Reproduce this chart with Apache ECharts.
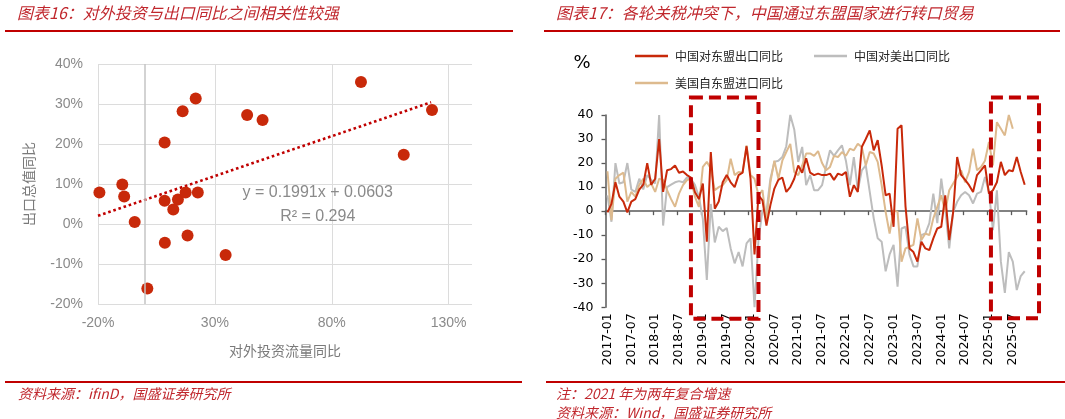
<!DOCTYPE html>
<html><head><meta charset="utf-8">
<script src="https://cdn.jsdelivr.net/npm/echarts@6/dist/echarts.min.js"></script>
<style>html,body{margin:0;padding:0;background:#fff;}#c{width:1065px;height:419px;}</style>
</head><body><div id="c"></div>
<script>
// ---------- Left chart: scatter (对外投资流量同比 vs 出口总值同比), % ----------
const investX = [-19.4, -9.6, -8.8, -4.3, 1.1, 8.5, 8.5, 8.6, 12.2, 14.2, 16.2, 17.5, 18.3, 21.8, 22.7, 34.6, 43.8, 50.4, 92.5, 110.8, 122.9];
const exportY = [7.9, 9.9, 6.9, 0.5, -16.1, 20.4, 5.8, -4.7, 3.6, 6.1, 28.2, 7.9, -2.9, 31.4, 7.9, -7.75, 27.25, 26, 35.5, 17.3, 28.5];
const trendSlope = 0.1991, trendIntercept = 0.0603, trendR2 = 0.294;
const trendXRange = [-20, 122.5];
const leftXTicks = [-20, 30, 80, 130];

// ---------- Right chart: monthly YoY (%) ----------
const startYear = 2017, monthCount = 106;
const months = [];
for (let i = 0; i < monthCount; i++) {
  const y = startYear + Math.floor(i / 12), m = i % 12 + 1;
  months.push(y + '-' + (m < 10 ? '0' + m : m));
}
const chinaToAsean = [-0.5,3,12,6,4,-0.5,4,5,9,11,20,11,13.5,30,8,17,17.5,19,16,16.5,15,14,8,5,11.5,-12.7,24.6,1,4,12,15,12,10,15,16,27,13.5,-18,6.6,4.5,-6,2.5,9.4,13,14,8,10,13.5,19,16,22,16,15,15.6,15,15,15.6,13,15.6,15,16.3,6,10.8,8,26.7,30,33.6,25.3,29.5,19,6.6,7.3,-6.5,34.3,35.7,2,-15.5,-17,-21,-12.7,-15.5,-16.2,-11.3,-7.2,-6.5,6.6,-12,-0.3,22.5,15,13,10.8,8,15,17,19,7.3,8.7,12,20.5,15,17,16.6,22.5,16.3,11];
const chinaToUS = [6.6,-4.4,20,11.5,12,20,9,8,13.5,9,15,13,11.5,40,-6,10,11,12,12.5,12,14,13.5,11,6,-3.3,-28.6,3,-13,-6.5,-8.3,-7,-15.5,-21.7,-17,-23,-13.4,-11.3,-40,-12,0.4,-0.3,13.5,20.5,21,22.5,27,40,34,20.5,26.7,10.8,15,8.7,8.7,10.8,18.4,25.3,23,25.3,27.4,21,10.8,22.5,8.7,17,19,8,-3,-11.3,-12.7,-25,-18,-14,-31.4,-7.2,-6.5,-18,-23,-23,-10,-9.3,-5,7.3,-5,13.5,1,-15.5,-0.3,3.9,6.6,8,6.6,3.2,7.3,8,14.2,8,-7.9,8.7,-21,-34,-17,-21,-32.8,-27,-25];
const usFromAsean = [16.6,-3.7,13.5,15,16,4,8,6,11,13.5,10,11.5,8,13.5,13,8.7,5,1.8,7.3,10.8,12.9,13.5,6,1.8,18.4,20.5,17.7,8.7,10,10.8,12.9,21.8,15,16.3,16,27.4,15,13.5,6.6,8.7,-4.4,12,21,13.5,21,24.6,28,16.3,15,19,24,24,23,25,20,17,18.4,23,22.5,24.6,23,26,25.3,28,26.7,19,24.6,24,20.5,10.8,-0.3,-9.3,0.4,-0.3,-21,-15.5,-14.8,-14,-3,-12,-9.3,-10,-3,1.8,6.6,-0.3,8.7,11.5,14.2,17,12,16.3,26,17,18.4,21,28.8,19,37,34.3,31.5,40,34.3];
const seriesNames = ['中国对东盟出口同比', '中国对美出口同比', '美国自东盟进口同比'];
// highlighted periods, in month-index units and y-values
const boxes = [{from: 21, to: 38, top: 47.3, bottom: -44.8}, {from: 96.5, to: 108.6, top: 47.3, bottom: -44.6}];

const RED = '#C8290A', GRAY = '#BDBDBD', TAN = '#DDBA8E', TITLE = '#C0272D';
const chart = echarts.init(document.getElementById('c'), null, {renderer: 'canvas'});
const scatterData = investX.map((x, i) => [x, exportY[i]]);
const trendData = trendXRange.map(x => [x, (trendSlope * x / 100 + trendIntercept) * 100]);
const leftLabel = {color: '#8a8a8a', fontFamily: 'Liberation Sans', fontSize: 14};

chart.setOption({
  animation: false,
  grid: [
    {left: 98, right: 593, top: 64, bottom: 115},
    {left: 605.5, right: 38.3, top: 115, bottom: 111.7}
  ],
  legend: [
    {data: [seriesNames[0], seriesNames[1]], left: 630, top: 45, itemWidth: 33, itemHeight: 2.5, itemGap: 31, icon: 'rect',
     textStyle: {fontFamily: 'Noto Sans CJK SC', fontSize: 12, color: '#262626', padding: [0, 0, 0, 2]}},
    {data: [seriesNames[2]], left: 630, top: 72, itemWidth: 33, itemHeight: 2.5, icon: 'rect',
     textStyle: {fontFamily: 'Noto Sans CJK SC', fontSize: 12, color: '#262626', padding: [0, 0, 0, 2]}}
  ],
  xAxis: [
    {gridIndex: 0, type: 'value', min: -20, max: 140, interval: 50,
     name: '对外投资流量同比', nameLocation: 'middle', nameGap: 40,
     nameTextStyle: {color: '#7a7a7a', fontFamily: 'Noto Sans CJK SC', fontSize: 14},
     axisLine: {show: false, onZero: false}, axisTick: {show: false},
     axisLabel: Object.assign({margin: 12, showMaxLabel: false, formatter: v => leftXTicks.indexOf(v) >= 0 ? v + '%' : ''}, leftLabel),
     splitLine: {show: true, showMaxLine: false, lineStyle: {color: '#dcdcdc', width: 1}}},
    {gridIndex: 1, type: 'category', data: months, boundaryGap: true, position: 'bottom',
     axisLine: {show: false, onZero: false}, axisTick: {show: false},
     axisLabel: {interval: 5, rotate: 90, margin: 6, color: '#000', fontFamily: 'DejaVu Sans', fontSize: 12.5}},
    {gridIndex: 1, type: 'category', data: months, boundaryGap: true, position: 'top',
     axisLine: {show: true, onZero: true, lineStyle: {color: '#595959', width: 1.5}},
     axisTick: {show: true, inside: true, interval: 5, length: 4, lineStyle: {color: '#595959', width: 1.3}},
     axisLabel: {show: false}}
  ],
  yAxis: [
    {gridIndex: 0, type: 'value', min: -20, max: 40, interval: 10,
     name: '出口总值同比', nameLocation: 'middle', nameGap: 62,
     nameTextStyle: {color: '#7a7a7a', fontFamily: 'Noto Sans CJK SC', fontSize: 14},
     axisLine: {show: false, onZero: false}, axisTick: {show: false},
     axisLabel: Object.assign({margin: 15, formatter: v => v + '%'}, leftLabel),
     splitLine: {show: true, lineStyle: {color: '#dcdcdc', width: 1}}},
    {gridIndex: 1, type: 'value', min: -40, max: 40, interval: 10,
     axisLine: {show: true, onZero: false, lineStyle: {color: '#595959', width: 1.5}},
     axisTick: {show: true, length: 4, lineStyle: {color: '#595959', width: 1.3}},
     axisLabel: {margin: 12, color: '#000', fontFamily: 'DejaVu Sans', fontSize: 12.5},
     splitLine: {show: false}}
  ],
  series: [
    {type: 'line', xAxisIndex: 0, yAxisIndex: 0, data: trendData, showSymbol: false, silent: true,
     lineStyle: {color: '#C00000', width: 2.6, type: [2.6, 2.8]}, z: 3},
    {type: 'scatter', xAxisIndex: 0, yAxisIndex: 0, data: scatterData, symbolSize: 12,
     itemStyle: {color: RED, opacity: 1}, z: 4,
     markLine: {silent: true, symbol: 'none', label: {show: false},
       lineStyle: {color: '#c4c4c4', width: 1.5, type: 'solid'}, data: [{xAxis: 0}]}},
    {name: seriesNames[1], type: 'line', xAxisIndex: 1, yAxisIndex: 1, data: chinaToUS, showSymbol: false,
     lineStyle: {color: GRAY, width: 2}, itemStyle: {color: GRAY}, z: 2},
    {name: seriesNames[2], type: 'line', xAxisIndex: 1, yAxisIndex: 1, data: usFromAsean, showSymbol: false,
     lineStyle: {color: TAN, width: 2}, itemStyle: {color: TAN}, z: 3},
    {name: seriesNames[0], type: 'line', xAxisIndex: 1, yAxisIndex: 1, data: chinaToAsean, showSymbol: false,
     lineStyle: {color: RED, width: 2}, itemStyle: {color: RED}, z: 4}
  ]
});

// annotation graphics
const p0 = chart.convertToPixel({xAxisIndex: 1}, months[0]);
const step = chart.convertToPixel({xAxisIndex: 1}, months[1]) - p0;
const boxGraphics = boxes.map(b => {
  const x1 = p0 + b.from * step, x2 = p0 + b.to * step;
  const y1 = chart.convertToPixel({yAxisIndex: 1}, b.top), y2 = chart.convertToPixel({yAxisIndex: 1}, b.bottom);
  return {type: 'rect', z: 100, shape: {x: x1, y: y1, width: x2 - x1, height: y2 - y1},
    style: {fill: 'none', stroke: '#C00000', lineWidth: 4, lineDash: [12, 6]}};
});
const eqX = chart.convertToPixel({xAxisIndex: 0}, 74);
const eqY1 = chart.convertToPixel({yAxisIndex: 0}, 7.75);
const eqY2 = chart.convertToPixel({yAxisIndex: 0}, 1.75);
const slopeTxt = trendSlope.toFixed(4), icptTxt = trendIntercept.toFixed(4);
const titleFont = 'italic 16px "Noto Sans CJK SC"';
const noteFont = 'italic 14px "Noto Sans CJK SC"';
chart.setOption({
  graphic: [
    {type: 'text', x: 17, y: 13, style: {text: '图表16：对外投资与出口同比之间相关性较强', font: titleFont, fill: TITLE, verticalAlign: 'middle'}},
    {type: 'text', x: 556, y: 13, style: {text: '图表17：各轮关税冲突下，中国通过东盟国家进行转口贸易', font: titleFont, fill: TITLE, verticalAlign: 'middle'}},
    {type: 'line', shape: {x1: 5, y1: 31, x2: 513, y2: 31}, style: {stroke: '#C00000', lineWidth: 2}},
    {type: 'line', shape: {x1: 544, y1: 31, x2: 1060, y2: 31}, style: {stroke: '#C00000', lineWidth: 2}},
    {type: 'line', shape: {x1: 5, y1: 382, x2: 522, y2: 382}, style: {stroke: '#C00000', lineWidth: 2}},
    {type: 'line', shape: {x1: 546, y1: 382, x2: 1065, y2: 382}, style: {stroke: '#C00000', lineWidth: 2}},
    {type: 'text', x: 18, y: 394, style: {text: '资料来源：ifinD，国盛证券研究所', font: noteFont, fill: TITLE, verticalAlign: 'middle'}},
    {type: 'text', x: 556, y: 394, style: {text: '注：2021 年为两年复合增速', font: noteFont, fill: TITLE, verticalAlign: 'middle'}},
    {type: 'text', x: 556, y: 413, style: {text: '资料来源：Wind，国盛证券研究所', font: noteFont, fill: TITLE, verticalAlign: 'middle'}},
    {type: 'text', x: 582, y: 63, style: {text: '%', font: '18px "DejaVu Sans"', fill: '#000', align: 'center', verticalAlign: 'middle'}},
    {type: 'text', x: eqX, y: eqY1, style: {text: 'y = ' + slopeTxt + 'x + ' + icptTxt, font: '16px "Liberation Sans"', fill: '#8a8a8a', align: 'center', verticalAlign: 'middle'}},
    {type: 'text', x: eqX, y: eqY2, style: {text: 'R² = ' + trendR2, font: '16px "Liberation Sans"', fill: '#8a8a8a', align: 'center', verticalAlign: 'middle'}}
  ].concat(boxGraphics)
});
</script></body></html>
